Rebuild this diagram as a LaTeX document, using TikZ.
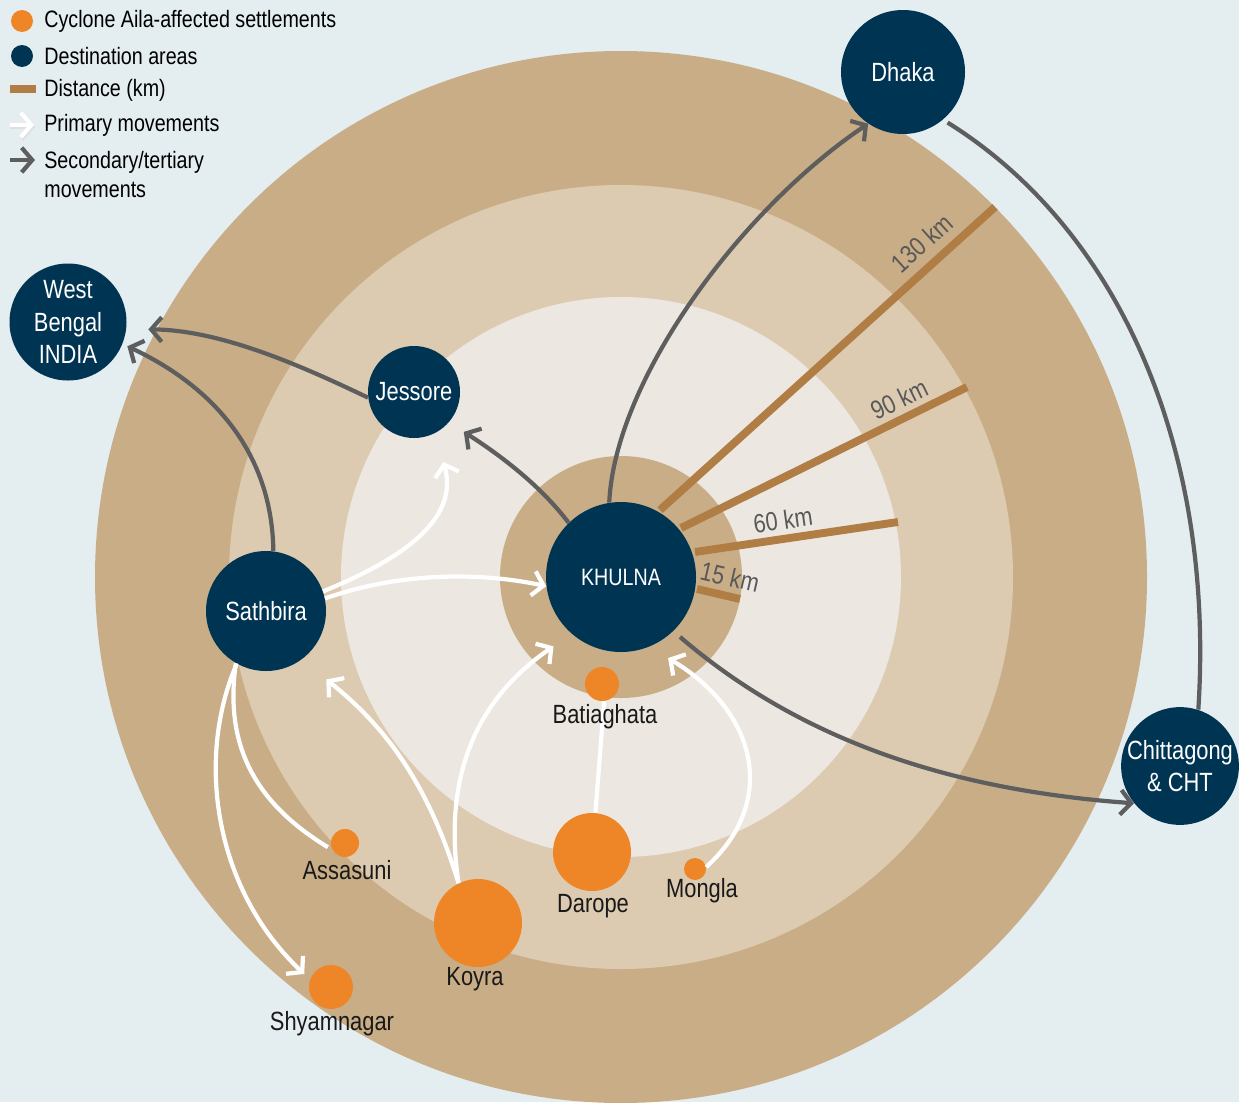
\documentclass[tikz,border=0pt]{standalone}
\usepackage{fontspec}
\setmainfont{Liberation Sans}[FakeStretch=0.83]
\usepackage{xcolor}
\usetikzlibrary{arrows.meta}
\definecolor{bgblue}{HTML}{E4EDF0}
\definecolor{ringdark}{HTML}{C9AD87}
\definecolor{ringmid}{HTML}{DCCBB0}
\definecolor{ringlight}{HTML}{ECE7E0}
\definecolor{navy}{HTML}{003453}
\definecolor{orng}{HTML}{EE8628}
\definecolor{brownl}{HTML}{B07E45}
\definecolor{arrgray}{HTML}{5E5E5E}
\definecolor{kmgray}{HTML}{595959}
\tikzset{
  dest/.style={circle,fill=navy,inner sep=0pt,minimum size=#1*0.02cm,text=white,align=center,font=\fontsize{15}{18.5}\selectfont},
  sett/.style={circle,fill=orng,inner sep=0pt,minimum size=#1*0.02cm},
  lbl/.style={inner sep=0pt,text=black!90,font=\fontsize{15}{18}\selectfont},
  legtxt/.style={anchor=west,inner sep=0pt,align=left,font=\fontsize{13.5}{16.5}\selectfont},
  kmtxt/.style={inner sep=0pt,text=kmgray,font=\fontsize{15}{18}\selectfont},
  kmbar/.style={draw=brownl,line width=4.5pt},
  prim/.style={white,line width=2.4pt,-{Straight Barb[length=6pt,width=14pt]}},
  sec/.style={arrgray,line width=2.4pt,-{Straight Barb[length=6pt,width=14pt]}}
}
\begin{document}
\begin{tikzpicture}[x=0.02cm,y=-0.02cm]
\fill[bgblue] (0,0) rectangle (1239,1102);
\useasboundingbox (0,0) rectangle (1239,1102);
% distance rings round Khulna
\fill[ringdark] (621,577) circle (526);
\fill[ringmid] (621,577) circle (392);
\fill[ringlight] (621,577) circle (280);
\fill[ringdark] (621,577) circle (121);
\foreach \ax/\ay/\bx/\by in {660/510/995/207, 681/528/967/387, 695/552/898/522, 697/589/740/599}
  \draw[kmbar] (\ax,\ay) -- (\bx,\by);
\node[kmtxt,rotate=42] (k130) at (922,243) {130 km};
\node[kmtxt,rotate=26] (k90) at (899,399) {90 km};
\node[kmtxt,rotate=8] (k60) at (783,520) {60 km};
\node[kmtxt,rotate=-13] (k15) at (730,577) {15 km};

% destination areas
\node[dest=124] (dhaka) at (903,72) {Dhaka};
\node[dest=117] (wbengal) at (68,322) {West\\Bengal\\INDIA};
\node[dest=92] (jessore) at (414,392) {Jessore};
\node[dest=120] (sathbira) at (266,611) {Sathbira};
\node[dest=150,font=\fontsize{13.5}{16}\selectfont] (khulna) at (621,577) {KHULNA};
\node[dest=114] (chitta) at (1180,766) {Chittagong\\\& CHT};

% settlements
\node[sett=34] (batia) at (602,684) {};
\node[sett=78] (darope) at (592,852) {};
\node[sett=22] (mongla) at (695,869) {};
\node[sett=28] (assa) at (345,843) {};
\node[sett=88] (koyra) at (478,923) {};
\node[sett=44] (shyam) at (331,987) {};

% secondary/tertiary movements
\draw[sec] (khulna.99) .. controls (615,380) and (740,210) .. (dhaka.236);
\draw[sec,-,shorten <=3pt] (dhaka.310) .. controls (1120,230) and (1215,450) .. (chitta.72);
\draw[sec,shorten <=5pt] (khulna.314) .. controls (800,740) and (950,790) .. (chitta.219);
\draw[sec,shorten >=10pt] (khulna.134) .. controls (540,485) and (500,455) .. (jessore.319);
\draw[sec,shorten >=12.5pt] (jessore.187) .. controls (300,365) and (220,330) .. (wbengal.353);
\draw[sec,shorten >=3pt] (sathbira.83) .. controls (272,450) and (210,385) .. (wbengal.338);

% primary movements
\draw[prim] (sathbira.12) .. controls (400,572) and (480,572) .. (khulna.187);
\draw[prim,shorten >=17pt] (sathbira.19) .. controls (400,560) and (460,520) .. (jessore.297);
\draw[prim,shorten >=4.5pt] (sathbira.241) .. controls (195,760) and (215,890) .. (shyam.160);
\draw[prim,-,shorten <=3pt] (assa.209) .. controls (250,800) and (225,740) .. (sathbira.240);
\draw[prim,shorten >=18pt] (koyra.116) .. controls (430,790) and (390,730) .. (sathbira.306);
\draw[prim,shorten >=12.5pt] (koyra.116) .. controls (440,760) and (490,690) .. (khulna.229);
\draw[prim,-] (darope.85) -- (batia.277);
\draw[prim,shorten >=12.5pt] (mongla.10) .. controls (780,800) and (755,710) .. (khulna.292);

\node[lbl] (tbatia) at (605,717) {Batiaghata};
\node[lbl] (tdarope) at (593,906) {Darope};
\node[lbl] (tmongla) at (702,891) {Mongla};
\node[lbl] (tassa) at (347,870) {Assasuni};
\node[lbl] (tkoyra) at (475,979) {Koyra};
\node[lbl] (tshyam) at (332,1024) {Shyamnagar};

% legend
\node[sett=22] (kset) at (22,21) {};
\node[legtxt] (lset) at (44,21) {Cyclone Aila-affected settlements};
\node[dest=22] (kdest) at (22,56) {};
\node[legtxt] (ldest) at (44,56) {Destination areas};
\draw[kmbar,line width=4pt] (10,89) -- (36,89);
\node[legtxt] (ldist) at (44,90) {Distance (km)};
\draw[prim,draw=gray!25] (10,127) -- (35,127);
\draw[prim] (10,125) -- (34,125);
\node[legtxt] (lprim) at (44,125) {Primary movements};
\draw[sec] (10,160) -- (35,160);
\node[legtxt] (lsec) at (44,175) {Secondary/tertiary\\movements};
\end{tikzpicture}
\end{document}
